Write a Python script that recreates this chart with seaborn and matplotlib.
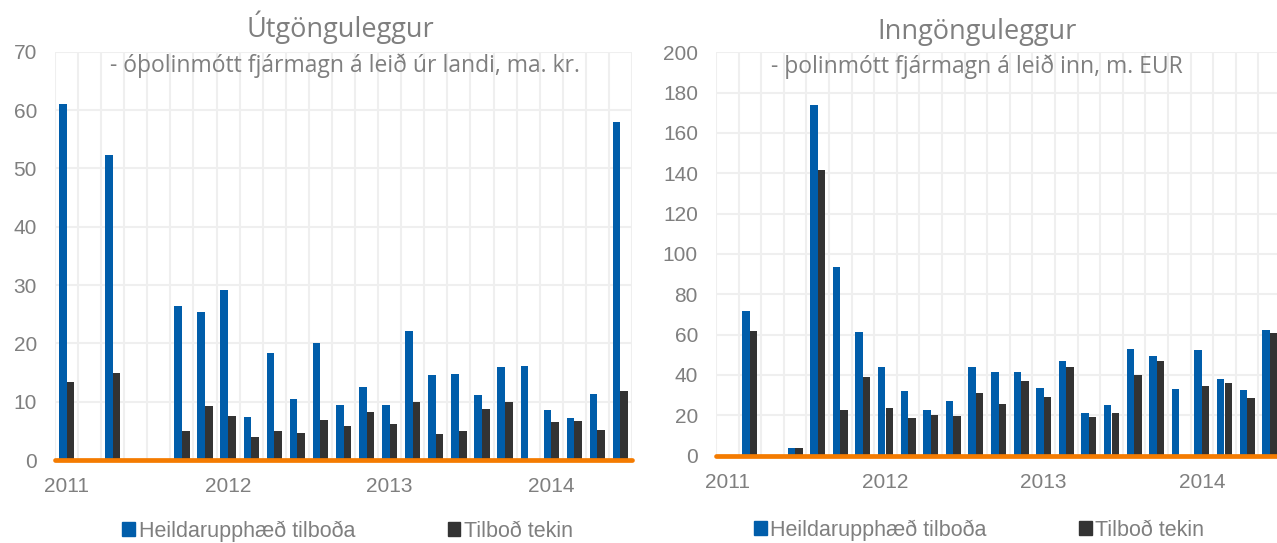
import pandas as pd
import matplotlib.pyplot as plt
import seaborn as sns
from matplotlib.patches import Patch
from matplotlib.ticker import MultipleLocator, FixedLocator

sns.set_theme(style="white")
plt.rcParams['font.family'] = ['Liberation Sans', 'DejaVu Sans']

# auction slots along the x axis, year labels every 7 slots
slots = list(range(25))
year_pos = [0, 7, 14, 21]
year_labels = ['2011', '2012', '2013', '2014']
series_names = ['Heildarupphæð tilboða', 'Tilboð tekin']

# Útgönguleggur (ma. kr.)
out_total = [61.1, None, 52.3, None, None, 26.4, 25.4, 29.1, 7.4, 18.3, 10.4, 20.0, 9.4,
             12.5, 9.4, 22.1, 14.6, 14.7, 11.1, 16.0, 16.2, 8.6, 7.2, 11.3, 57.9]
out_taken = [13.4, None, 15.0, None, None, 5.0, 9.2, 7.6, 3.9, 5.0, 4.7, 6.9, 5.8,
             8.3, 6.1, 9.9, 4.5, 5.0, 8.7, 9.9, None, 6.5, 6.7, 5.2, 11.9]

# Inngönguleggur (m. EUR)
in_total = [None, 71.7, None, 3.6, 174.0, 93.4, 61.5, 43.8, 31.9, 22.8, 26.9, 44.0, 41.5,
            41.5, 33.6, 47.1, 21.2, 25.0, 52.7, 49.4, 33.2, 52.4, 37.7, 32.4, 62.5]
in_taken = [None, 61.8, None, 3.6, 141.4, 22.5, 38.7, 23.8, 18.5, 20.2, 19.7, 30.9, 25.3,
            37.2, 28.9, 44.0, 19.3, 21.3, 39.8, 46.8, None, 34.5, 36.0, 28.4, 60.8]

BLUE = '#005DAA'
DARK = '#333333'
ORANGE = '#F47B00'
GRID = '#EFEFEF'
TEXT = '#7F7F7F'


def make_frame(total, taken):
    df = pd.DataFrame({'slot': slots, series_names[0]: total, series_names[1]: taken})
    df = df.melt(id_vars='slot', var_name='series', value_name='value')
    return df.dropna()


def draw_panel(ax, df, ymax, ystep, legend_x, legend_y):
    sns.barplot(data=df, x='slot', y='value', hue='series', order=slots,
                hue_order=series_names, palette=[BLUE, DARK], width=0.66,
                saturation=1, legend=False, ax=ax, zorder=2,
                linewidth=0, edgecolor='none')

    ax.set_ylim(0, ymax)
    ax.set_xlim(-0.5, len(slots) - 0.5)
    ax.set_axisbelow(True)
    ax.yaxis.set_major_locator(MultipleLocator(ystep))
    ax.grid(axis='y', color=GRID, lw=1.5)
    ax.set_xticks(year_pos, year_labels)
    ax.xaxis.set_minor_locator(FixedLocator([s - 0.5 for s in slots] + [len(slots) - 0.5]))
    ax.grid(axis='x', which='minor', color=GRID, lw=1.5)
    ax.grid(axis='x', which='major', visible=False)

    ax.axhline(0, color=ORANGE, lw=3.4, zorder=4, clip_on=False)

    ax.tick_params(axis='both', which='both', length=0, labelsize=15, colors=TEXT)
    ax.tick_params(axis='x', pad=12.5)
    ax.tick_params(axis='y', pad=13)
    ax.set_xlabel('')
    ax.set_ylabel('')
    sns.despine(ax=ax, left=True, bottom=True)

    handles = [Patch(color=BLUE, label=series_names[0]),
               Patch(color=DARK, label=series_names[1])]
    ax.legend(handles=handles, loc='center', bbox_to_anchor=(legend_x, legend_y), ncol=2,
              frameon=False, fontsize=15.5, handlelength=0.6, handleheight=0.6,
              handletextpad=0.15, columnspacing=4.3, labelcolor=TEXT)


fig = plt.figure(figsize=(12.77, 5.43), dpi=100)
ax_out = fig.add_axes([55 / 1277, 83 / 543, 577 / 1277, 408.3 / 543])
ax_in = fig.add_axes([716 / 1277, 87.5 / 543, 565 / 1277, 403.2 / 543])

draw_panel(ax_out, make_frame(out_total, out_taken), 70, 10, 0.507, -0.174)
draw_panel(ax_in, make_frame(in_total, in_taken), 200, 20, 0.465, -0.185)

title_font = ['Open Sans', 'DejaVu Sans']
fig.text(340 / 1277, 1 - 37.5 / 543, 'Útgönguleggur', ha='center', va='baseline',
         fontsize=19.5, color=TEXT, family=title_font)
fig.text(345 / 1277, 1 - 71.7 / 543, '- óþolinmótt fjármagn á leið úr landi, ma. kr.',
         ha='center', va='baseline', fontsize=16.5, color=TEXT, family=title_font)
fig.text(977 / 1277, 1 - 39.5 / 543, 'Inngönguleggur', ha='center', va='baseline',
         fontsize=19.5, color=TEXT, family=title_font)
fig.text(977 / 1277, 1 - 72.7 / 543, '- þolinmótt fjármagn á leið inn, m. EUR',
         ha='center', va='baseline', fontsize=16.5, color=TEXT, family=title_font)

fig.savefig('out.png', dpi=100)
plt.close()
